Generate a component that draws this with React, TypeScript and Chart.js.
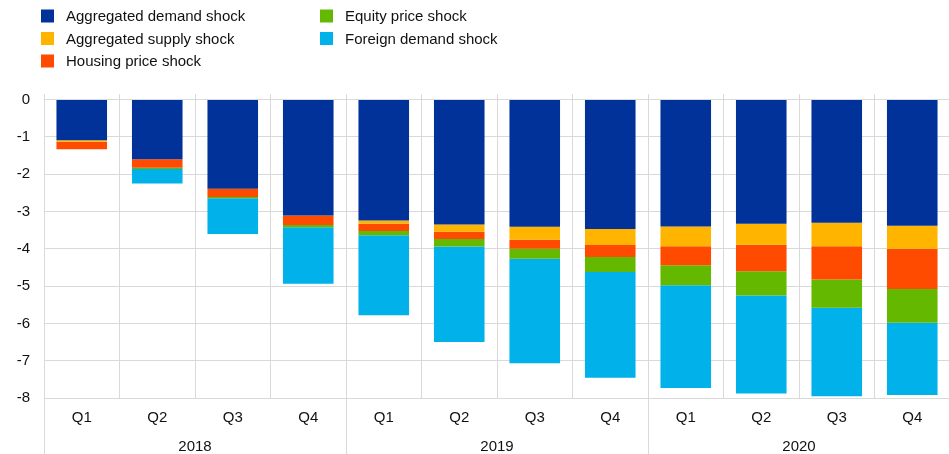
import React, { useEffect, useRef } from "react";
import { Chart, registerables } from "chart.js";

Chart.register(...registerables);

const quarters = ["Q1", "Q2", "Q3", "Q4", "Q1", "Q2", "Q3", "Q4", "Q1", "Q2", "Q3", "Q4"];
const years = ["2018", "2019", "2020"];
const quartersPerYear = 4;

const seriesLabels = [
  "Aggregated demand shock",
  "Aggregated supply shock",
  "Housing price shock",
  "Equity price shock",
  "Foreign demand shock",
];
const seriesColors = ["#003299", "#FFB400", "#FF4B00", "#65B800", "#00B1EA"];

const demandShock = [-1.09, -1.6, -2.39, -3.11, -3.24, -3.35, -3.41, -3.47, -3.4, -3.33, -3.3, -3.38];
const supplyShock = [-0.04, 0, 0, 0, -0.09, -0.19, -0.35, -0.43, -0.53, -0.56, -0.63, -0.62];
const housingShock = [-0.2, -0.23, -0.22, -0.25, -0.19, -0.2, -0.24, -0.32, -0.51, -0.71, -0.89, -1.08];
const equityShock = [0, -0.03, -0.035, -0.06, -0.12, -0.2, -0.27, -0.4, -0.54, -0.65, -0.76, -0.9];
const foreignShock = [0, -0.39, -0.955, -1.52, -2.14, -2.56, -2.8, -2.84, -2.75, -2.63, -2.37, -1.94];

const yTicks = [0, -1, -2, -3, -4, -5, -6, -7, -8];

const FONT = "'Liberation Sans', Arial, sans-serif";
const TEXT = "#111111";
const GRID = "#d9d9d9";

const legendPlugin = {
  id: "customLegend",
  afterDraw(chart: any) {
    const ctx = chart.ctx;
    const colX = [41, 320];
    const rowY = [16, 38.5, 61];
    ctx.save();
    ctx.font = `15px ${FONT}`;
    ctx.textBaseline = "middle";
    ctx.textAlign = "left";
    chart.data.datasets.forEach((ds: any, i: number) => {
      const col = i < 3 ? 0 : 1;
      const row = i < 3 ? i : i - 3;
      const x = colX[col];
      const y = rowY[row];
      ctx.fillStyle = ds.backgroundColor;
      ctx.fillRect(x, y - 6.5, 13, 13);
      ctx.fillStyle = TEXT;
      ctx.fillText(ds.label, x + 25, y + 1);
    });
    ctx.restore();
  },
};

const yearAxisPlugin = {
  id: "yearAxis",
  afterDraw(chart: any) {
    const ctx = chart.ctx;
    const xs = chart.scales.x;
    const area = chart.chartArea;
    const bottom = chart.height;
    const half = (xs.getPixelForTick(1) - xs.getPixelForTick(0)) / 2;
    ctx.save();
    ctx.strokeStyle = GRID;
    ctx.lineWidth = 1;
    ctx.font = `15px ${FONT}`;
    ctx.fillStyle = TEXT;
    ctx.textAlign = "center";
    ctx.textBaseline = "middle";
    years.forEach((yr, i) => {
      const first = i * quartersPerYear;
      const last = first + quartersPerYear - 1;
      const left = xs.getPixelForTick(first) - half;
      const right = xs.getPixelForTick(last) + half;
      const lx = Math.round(left) + 0.5;
      ctx.beginPath();
      ctx.moveTo(lx, area.bottom);
      ctx.lineTo(lx, bottom);
      ctx.stroke();
      ctx.fillText(yr, (left + right) / 2, 447);
    });
    ctx.restore();
  },
};

export default function App() {
  const canvasRef = useRef<HTMLCanvasElement | null>(null);

  useEffect(() => {
    if (!canvasRef.current) return;
    const seriesValues = [demandShock, supplyShock, housingShock, equityShock, foreignShock];
    const chart = new Chart(canvasRef.current, {
      type: "bar",
      data: {
        labels: quarters,
        datasets: seriesLabels.map((label, i) => ({
          label,
          data: seriesValues[i],
          backgroundColor: seriesColors[i],
          borderWidth: 0,
          barPercentage: 0.67,
          categoryPercentage: 1,
        })),
      },
      options: {
        responsive: false,
        animation: false,
        events: [],
        layout: { padding: { top: 94, right: 1, left: 0, bottom: 0 } },
        plugins: {
          legend: { display: false },
          tooltip: { enabled: false },
        },
        scales: {
          x: {
            stacked: true,
            grid: { color: GRID, offset: true, drawTicks: false, lineWidth: 1 },
            border: { color: GRID },
            ticks: { color: TEXT, font: { family: FONT, size: 15 }, padding: 11, maxRotation: 0, autoSkip: false },
            afterFit: (scale: any) => {
              scale.height = 56;
            },
          },
          y: {
            stacked: true,
            min: -8,
            max: 0.15,
            grid: { color: GRID, drawTicks: false, lineWidth: 1 },
            border: { color: GRID },
            afterBuildTicks: (scale: any) => {
              scale.ticks = yTicks.map((v) => ({ value: v }));
            },
            ticks: {
              color: TEXT,
              font: { family: FONT, size: 15 },
              padding: 14,
              callback: (v: any) => String(v),
            },
            afterFit: (scale: any) => {
              scale.width = 44;
            },
          },
        },
      },
      plugins: [legendPlugin, yearAxisPlugin],
    });
    return () => chart.destroy();
  }, []);

  return (
    <div
      style={{
        position: "absolute",
        left: 0,
        top: 0,
        width: 949,
        height: 454,
        overflow: "hidden",
        background: "#fff",
      }}
    >
      <canvas ref={canvasRef} width={951} height={454} style={{ display: "block" }} />
    </div>
  );
}
